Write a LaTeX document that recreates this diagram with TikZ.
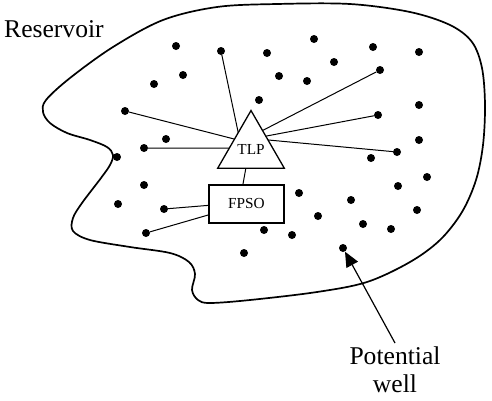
\documentclass[tikz,border=0pt]{standalone}
\usepackage{fontspec}
\setmainfont{Liberation Serif}
\newfontfamily\timesfont{Liberation Serif}
\usetikzlibrary{positioning}
\usetikzlibrary{shapes.geometric}
\usetikzlibrary{arrows.meta}

\tikzset{
  well/.style={circle, fill=black, minimum size=8pt, inner sep=0pt},
  bigtext/.style={font=\timesfont\fontsize{25.6}{28}\selectfont},
  unit/.style={draw, line width=1.3pt, font=\timesfont\fontsize{15.3}{18}\selectfont, outer sep=0pt},
  pipe/.style={line width=1pt},
  pointer/.style={line width=1.2pt, -{Triangle[length=15pt,width=13pt]}}
}

\begin{document}
\begin{tikzpicture}[x=1pt, y=-1pt]

    \useasboundingbox (0,0) rectangle (492,400);

    % reservoir outline
    \draw[line width=1.7pt] plot[smooth cycle, tension=0.55] coordinates {
      (217,7) (277,4) (350,4) (410,12) (450,25) (472,42) (482,68)
      (485,105) (483,145) (476,180) (462,212) (440,240) (410,262)
      (367,282) (317,292) (250,300) (210,303) (198,300) (192,290)
      (195,274) (189,262) (170,253) (130,247) (90,240) (73,231)
      (73,218) (82,203) (101,178) (110,165) (113,155) (107,147)
      (90,140) (67,133) (50,123) (43,112) (46,100) (70,78)
      (113,47) (163,20)};

    \node[bigtext, anchor=base west, inner sep=0pt] (res) at (4,37) {Reservoir};

    % wells
    \foreach \n/\x/\y in {1/176/46, 2/221/51, 3/267/53, 4/314/39, 5/373/47,
        6/419/52, 7/183/75, 8/154/84, 9/279/76, 10/307/81, 11/334/62,
        12/380/70, 13/259/100, 14/125/111, 15/419/105, 16/378/115,
        17/166/139, 18/144/148, 19/419/140, 20/397/152, 21/371/158,
        22/117/157, 23/427/177, 24/398/186, 25/144/185, 26/299/193,
        27/351/200, 28/118/204, 29/164/209, 30/417/210, 31/318/216,
        32/363/224, 33/391/229, 34/146/233, 35/264/230, 36/292/235,
        37/244/253, 38/343/248} {
      \node[well] (w\n) at (\x,\y) {};
    }

    % platforms
    \node[unit, regular polygon, regular polygon sides=3, minimum size=76pt,
          inner sep=0pt] (tlp) at (251,149) {TLP};
    \node[unit, rectangle, minimum width=75pt, minimum height=38pt]
          (fpso) at (246.5,204) {FPSO};

    % tie-backs
    \foreach \n/\a in {2/128, 14/149, 18/178, 12/58, 16/41, 20/28} {
      \draw[pipe] (w\n) -- (tlp.\a);
    }
    \draw[pipe] (tlp.255) -- (fpso.101);
    \foreach \n/\a in {29/182, 34/196} {
      \draw[pipe] (w\n) -- (fpso.\a);
    }

    \node[bigtext, align=center, inner sep=3.5pt, anchor=north]
          (potwell) at (395,343) {Potential\\well};
    \draw[pointer] (potwell.north) -- (w38);

\end{tikzpicture}
\end{document}
